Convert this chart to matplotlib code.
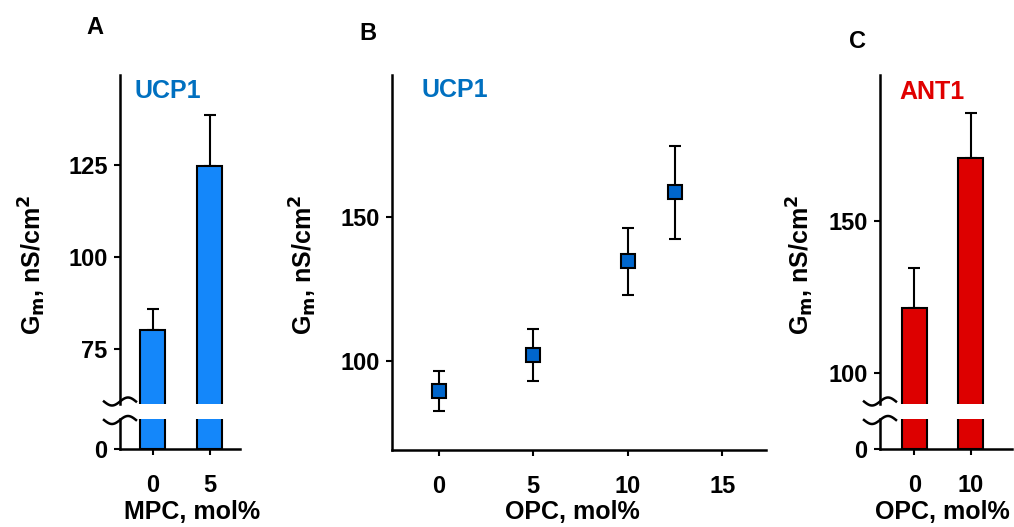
import numpy as np
import matplotlib
matplotlib.use("Agg")
from matplotlib import pyplot as plt
from matplotlib.lines import Line2D

plt.rcParams['font.family'] = ['Liberation Sans', 'DejaVu Sans']
plt.rcParams['font.weight'] = 'bold'

# panel A: UCP1, MPC
a_labels = ['0', '5']
a_vals = [80.2, 124.7]
a_err = [5.6, 13.9]

# panel B: UCP1, OPC
b_x = [0, 5, 10, 12.5]
b_vals = [89.7, 102.1, 134.5, 158.5]
b_err = [6.9, 9.1, 11.5, 16.1]

# panel C: ANT1, OPC
c_labels = ['0', '10']
c_vals = [121.4, 170.6]
c_err = [13.1, 14.8]

W, H = 1014, 527
fig = plt.figure(figsize=(W / 100, H / 100), dpi=100)

def px_axes(l, t, r, b):
    return fig.add_axes([l / W, 1 - b / H, (r - l) / W, (b - t) / H])

def style(ax):
    for s in ['top', 'right']:
        ax.spines[s].set_visible(False)
    for s in ['left', 'bottom']:
        ax.spines[s].set_linewidth(1.8)
    ax.tick_params(direction='out', length=4, width=1.5, labelsize=17, pad=5)
    ax.patch.set_alpha(0)

def tilde(xc, yc):
    t = np.linspace(-1, 1, 60)
    xs = xc + 16 * t
    ys = yc - 4 * np.sin(np.pi * t)
    fig.add_artist(Line2D(xs / W, 1 - ys / H, transform=fig.transFigure,
                          color='black', lw=1.8))

def broken_bars(l, r, top_lim, ticks, labels, vals, errs, color, xlim):
    top = px_axes(l, 75, r, 404)
    bot = px_axes(l, 419, r, 449)
    x = np.arange(len(vals))
    for ax in (top, bot):
        style(ax)
        ax.bar(x, vals, width=0.44, color=color, edgecolor='black', linewidth=1.5, zorder=3)
        ax.set_xlim(*xlim)
    top.errorbar(x, vals, yerr=[np.zeros(len(errs)), errs], fmt='none', ecolor='black',
                 elinewidth=1.5, capsize=4, capthick=1.5, zorder=2)
    top.set_ylim(*top_lim)
    top.set_yticks(ticks)
    top.spines['bottom'].set_visible(False)
    top.tick_params(axis='x', bottom=False, labelbottom=False)
    bot.set_ylim(0, 10)
    bot.set_yticks([0])
    bot.set_xticks(x)
    bot.set_xticklabels(labels)
    bot.tick_params(axis='x', pad=14)
    tilde(l, 401.5)
    tilde(l, 420)
    return top, bot

# A
broken_bars(120, 240, (60.0, 149.5), [75, 100, 125], a_labels, a_vals, a_err,
            '#1487FA', (-0.58, 1.53))
# C
broken_bars(880, 1012, (89.8, 198.0), [100, 150], c_labels, c_vals, c_err,
            '#DD0000', (-0.61, 1.73))

# B
axb = px_axes(392, 75, 766, 450)
style(axb)
axb.errorbar(b_x, b_vals, yerr=b_err, fmt='s', mfc='#0066CC', mec='black', ms=10, mew=1.5,
             ecolor='black', elinewidth=1.5, capsize=4, capthick=1.5)
axb.set_xlim(-2.46, 17.3)
axb.set_ylim(69.2, 199.1)
axb.set_xticks([0, 5, 10, 15])
axb.set_yticks([100, 150])
axb.tick_params(axis='x', pad=14)

def ftext(x, y, s, **kw):
    fig.text(x / W, 1 - y / H, s, ha='center', va='center', fontweight='bold', **kw)

ylab = r'G$_\mathbf{m}$, nS/cm$^\mathbf{2}$'
ftext(32, 265, ylab, fontsize=18, rotation=90)
ftext(303, 265, ylab, fontsize=18, rotation=90)
ftext(800, 265, ylab, fontsize=18, rotation=90)

ftext(192, 512, 'MPC, mol%', fontsize=18)
ftext(572, 512, 'OPC, mol%', fontsize=18)
ftext(942, 512, 'OPC, mol%', fontsize=18)

ftext(168, 91, 'UCP1', fontsize=18, color='#0070C0')
ftext(455, 90, 'UCP1', fontsize=18, color='#0070C0')
ftext(932, 92, 'ANT1', fontsize=18, color='#E00000')

ftext(95, 28, 'A', fontsize=17)
ftext(368, 33, 'B', fontsize=17)
ftext(857, 42, 'C', fontsize=17)

fig.savefig('out.png', dpi=100)
